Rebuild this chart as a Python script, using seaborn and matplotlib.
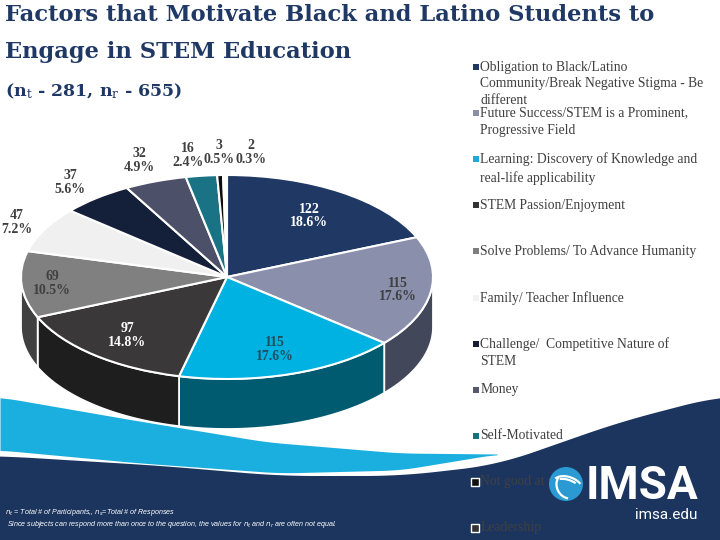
import numpy as np
import matplotlib
matplotlib.use("Agg")
import matplotlib.pyplot as plt
from matplotlib.patches import Circle, Arc
import seaborn as sns

# ---------------- data ----------------
categories = [
    "Obligation to Black/Latino Community/Break Negative Stigma - Be different",
    "Future Success/STEM is a Prominent, Progressive Field",
    "Learning: Discovery of Knowledge and real-life applicability",
    "STEM Passion/Enjoyment",
    "Solve Problems/ To Advance Humanity",
    "Family/ Teacher Influence",
    "Challenge/  Competitive Nature of STEM",
    "Money",
    "Self-Motivated",
    "Not good at math",
    "Leadership",
]
legend_labels = [
    "Obligation to Black/Latino\nCommunity/Break Negative Stigma - Be\ndifferent",
    "Future Success/STEM is a Prominent,\nProgressive Field",
    "Learning: Discovery of Knowledge and\nreal-life applicability",
    "STEM Passion/Enjoyment",
    "Solve Problems/ To Advance Humanity",
    "Family/ Teacher Influence",
    "Challenge/  Competitive Nature of\nSTEM",
    "Money",
    "Self-Motivated",
    "Not good at math",
    "Leadership",
]
counts = [122, 115, 115, 97, 69, 47, 37, 32, 16, 3, 2]
title_lines = ["Factors that Motivate Black and Latino Students to",
               "Engage in STEM Education"]
n_participants = 281
n_responses = 655
footnote_lines = [
    r"$n_t$ = Total # of Participants,, $n_s$=Total # of Responses",
    r"Since subjects can respond more than once to the question, the values for $n_t$ and $n_r$ are often not equal.",
]

# ---------------- styles ----------------
top_colors = ["#1F3864", "#8A8FAC", "#00B2E2", "#3A3838", "#808080", "#F0F0F0",
              "#14203A", "#4C5068", "#1A7384", "#0D0D0D", "#FFFFFF"]
side_colors = ["#122242", "#43475A", "#005B70", "#1E1E1E", "#404040", "#A0A0A0",
               "#0A1020", "#2A2D3C", "#0E4450", "#000000", "#CCCCCC"]
marker_colors = ["#1F3864", "#8C8FA8", "#1FA8DA", "#333333", "#7F7F7F", "#F2F2F2",
                 "#161E36", "#55586E", "#137480", "#111111", "#333333"]
label_colors = ["white", "#404040", "#1F4E5F", "white", "#404040"] + ["#404040"] * 6
label_radius = [0.72, 0.84, 0.75, 0.75, 0.85, 1.15, 1.2, 1.22, 1.2, 1.22, 1.22]
label_dx_px = [0, 0, 0, 0, 0, 0, 0, 0, -8, 0, 26]
NAVY = "#1C355E"
CYAN = "#1AAFDF"
TEXT_GRAY = "#404040"

sns.set_theme(style="white")
plt.rcParams["font.family"] = ["Liberation Serif", "DejaVu Serif"]

W, H = 720, 540
fig = plt.figure(figsize=(7.2, 5.4), dpi=100)
fig.patch.set_facecolor("white")

# ---------------- background decoration ----------------
bg = fig.add_axes([0, 0, 1, 1], zorder=0)
bg.set_xlim(0, W)
bg.set_ylim(H, 0)
bg.axis("off")


def smooth_curve(px, py, win=41, n=400):
    xs = np.linspace(px[0], px[-1], n)
    ys = np.interp(xs, px, py)
    k = np.ones(win) / win
    pad = win // 2
    ys = np.convolve(np.pad(ys, pad, mode="edge"), k, mode="valid")
    return xs, ys


nx, ny = smooth_curve([0, 163, 280, 400, 497, 540, 620, 720],
                      [456, 466, 476, 476, 465, 450, 422, 396])
bg.fill_between(nx, ny, H, color=NAVY, lw=0)
tx, ty = smooth_curve([0, 133, 267, 400, 497], [397, 420, 442, 453, 454], win=31)
_, by = smooth_curve([0, 140, 280, 400, 497], [450, 463, 473, 470, 454], win=31)
bg.fill_between(tx, ty, by, color=CYAN, lw=0)

# ---------------- 3D pie ----------------
cx, cy, rx, ry, depth = 227, 277, 206, 102, 50
xl = (-1.1, 1.1)
yl = (-1.7, 1.3)
left = cx + xl[0] * rx
right = cx + xl[1] * rx
top = cy - yl[1] * ry
bottom = cy - yl[0] * ry
ax = fig.add_axes([left / W, 1 - bottom / H, (right - left) / W, (bottom - top) / H], zorder=1)
ax.set_facecolor("none")

n = len(counts)
fr = np.array(counts, dtype=float) / np.sum(counts)
cum = np.concatenate([[0], np.cumsum(fr)])
th_start = 90 - 360 * cum[:-1]
th_end = 90 - 360 * cum[1:]
d = depth / ry
for i in range(n):
    lo = max(th_end[i], -180)
    hi = min(th_start[i], 0)
    if hi > lo:
        t = np.radians(np.linspace(lo, hi, 120))
        xs = np.concatenate([np.cos(t), np.cos(t[::-1])])
        ys = np.concatenate([np.sin(t), np.sin(t[::-1]) - d])
        ax.fill(xs, ys, facecolor=side_colors[i], edgecolor="white", linewidth=1.3)

ax.pie(counts, colors=sns.color_palette(top_colors), startangle=90, counterclock=False,
       radius=1, wedgeprops=dict(edgecolor="white", linewidth=1.5))
ax.set_aspect("auto")
ax.set_xlim(*xl)
ax.set_ylim(*yl)
ax.axis("off")

mid = np.radians((th_start + th_end) / 2)
for i in range(n):
    r = label_radius[i]
    ax.text(r * np.cos(mid[i]) + label_dx_px[i] / rx, r * np.sin(mid[i]),
            f"{counts[i]}\n{100 * fr[i]:.1f}%", ha="center", va="center",
            color=label_colors[i], fontsize=10, fontweight="bold", linespacing=1.05)

# ---------------- overlay: titles, legend, logo ----------------
ov = fig.add_axes([0, 0, 1, 1], zorder=2)
ov.set_xlim(0, W)
ov.set_ylim(H, 0)
ov.axis("off")
ov.set_facecolor("none")

ov.text(5, 21, title_lines[0], fontfamily="DejaVu Serif", fontweight="bold",
        fontsize=16.3, color="#1F3864", va="baseline")
ov.text(5, 58, title_lines[1], fontfamily="DejaVu Serif", fontweight="bold",
        fontsize=16.3, color="#1F3864", va="baseline")
ov.text(5, 96, rf"(n$_\mathrm{{t}}$ - {n_participants}, n$_\mathrm{{r}}$ - {n_responses})",
        fontfamily="DejaVu Serif", fontweight="bold", fontsize=12.5, color="#1F3864",
        va="baseline", math_fontfamily="dejavuserif")

pitch = 46.1
y0 = 67
for i, lab in enumerate(legend_labels):
    y = y0 + i * pitch
    if i >= 9:
        ov.scatter([475], [y], marker="s", s=33, c=[marker_colors[i]],
                   edgecolors="white", linewidths=1.0, zorder=3)
    else:
        ov.scatter([476], [y], marker="s", s=19, c=[marker_colors[i]], linewidths=0, zorder=3)
    ov.text(480.5, y - 6.5, lab, va="top", ha="left", fontsize=9.8, color=TEXT_GRAY,
            linespacing=1.4, zorder=3)

# logo
ov.add_patch(Circle((566, 484), 17, facecolor="#2B9AD3", edgecolor="none", zorder=4))
for (w, h, a, t1, t2) in [(30, 18, 20, 190, 330), (26, 12, 20, 200, 320), (22, 26, -30, 120, 250)]:
    ov.add_patch(Arc((568, 486), w, h, angle=a, theta1=t1, theta2=t2, color="white", lw=1.6, zorder=5))
ov.text(586, 486, "IMSA", fontfamily="Roboto", fontweight="bold", fontsize=33,
        color="white", va="center", ha="left", zorder=4)
ov.text(697, 515, "imsa.edu", fontfamily="Roboto", fontsize=11, color="white",
        va="center", ha="right", zorder=4)

# footnotes
ov.text(5, 513, footnote_lines[0], fontfamily="Liberation Sans", style="italic",
        fontsize=5.1, color="white", va="center", math_fontfamily="dejavusans", zorder=4)
ov.text(7, 524, footnote_lines[1], fontfamily="Liberation Sans", style="italic",
        fontsize=5.1, color="white", va="center", math_fontfamily="dejavusans", zorder=4)

fig.savefig("out.png", dpi=100, facecolor="white")
